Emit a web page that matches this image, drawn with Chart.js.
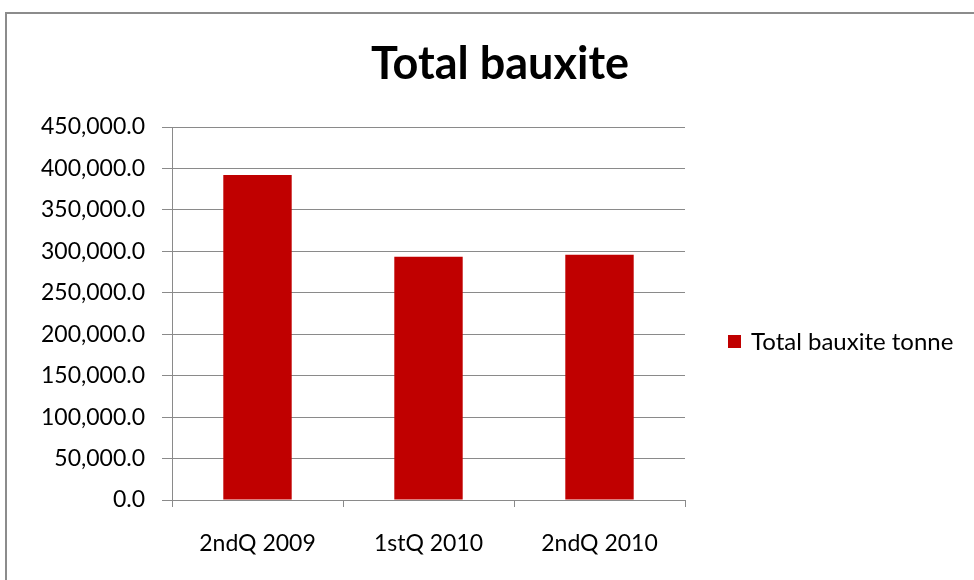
<!DOCTYPE html>
<html>
<head>
<meta charset="utf-8">
<script src="https://cdn.jsdelivr.net/npm/chart.js@4/dist/chart.umd.min.js"></script>
<style>
  body { margin: 0; background: #fff; overflow: hidden; }
  #frame { position: absolute; left: 5px; top: 12px; width: 1100px; height: 700px; border: 2px solid #8c8c8c; }
  #wrap { position: absolute; left: 0; top: 0; width: 974px; height: 580px; }
</style>
</head>
<body>
<div id="frame"></div>
<div id="wrap"><canvas id="bauxiteChart" width="974" height="580"></canvas></div>
<script>
// quarters and tonnes
const quarters = ['2ndQ 2009', '1stQ 2010', '2ndQ 2010'];
const tonnes = [392000, 293500, 296000];
const seriesName = 'Total bauxite tonne';
const chartTitle = 'Total bauxite';

const FONT = 'Lato, "Open Sans", sans-serif';
const gridGrey = '#8a8a8a';

// legend drawn on the right, next to the plot
const sideLegend = {
  id: 'sideLegend',
  afterDraw(chart) {
    const ctx = chart.ctx;
    const ds = chart.data.datasets[0];
    const y = 342;
    ctx.save();
    ctx.fillStyle = ds.backgroundColor;
    ctx.fillRect(728, y - 7, 13, 13);
    ctx.fillStyle = '#000';
    ctx.font = '24px ' + FONT;
    ctx.textBaseline = 'middle';
    ctx.fillText(ds.label, 751, y);
    ctx.restore();
  }
};

const ctx = document.getElementById('bauxiteChart').getContext('2d');
const chart = new Chart(ctx, {
  type: 'bar',
  data: {
    labels: quarters,
    datasets: [{
      label: seriesName,
      data: tonnes,
      backgroundColor: '#c00000',
      categoryPercentage: 0.8,
      barPercentage: 0.5
    }]
  },
  options: {
    responsive: false,
    animation: false,
    layout: { padding: { left: 26, right: 0, top: 0, bottom: 0 } },
    plugins: {
      legend: { display: false },
      tooltip: { enabled: false },
      title: {
        display: true,
        text: chartTitle,
        color: '#000',
        font: { family: FONT, size: 45, weight: 'bold', lineHeight: 1.2 },
        padding: { top: 37, bottom: 36 }
      }
    },
    scales: {
      x: {
        offset: true,
        grid: { display: true, drawOnChartArea: false, offset: true, tickLength: 7, color: gridGrey },
        border: { color: gridGrey, width: 1 },
        ticks: { color: '#000', padding: 23, font: { family: FONT, size: 23 } },
        afterFit(scale) { scale.height = 80; }
      },
      y: {
        min: 0,
        max: 450000,
        ticks: {
          stepSize: 50000,
          color: '#000',
          padding: 17,
          font: { family: FONT, size: 23 },
          callback: v => v.toLocaleString('en-US', { minimumFractionDigits: 1, maximumFractionDigits: 1 })
        },
        grid: { color: gridGrey, tickLength: 10, lineWidth: 1 },
        border: { color: gridGrey, width: 1 },
        afterFit(scale) { scale.width = 146; }
      },
      side: {
        position: 'right',
        display: true,
        grid: { display: false },
        border: { display: false },
        ticks: { display: false },
        afterFit(scale) { scale.width = 289; }
      }
    }
  },
  plugins: [sideLegend]
});
</script>
</body>
</html>
